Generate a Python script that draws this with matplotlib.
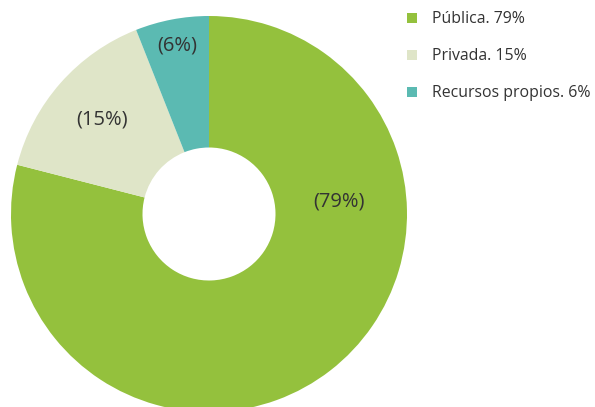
import numpy as np
import matplotlib.pyplot as plt
from matplotlib.patches import Patch

plt.rcParams['font.family'] = ['Open Sans', 'DejaVu Sans']

labels = ['Pública. 79%', 'Privada. 15%', 'Recursos propios. 6%']
values = [79, 15, 6]
pct_text = ['(79%)', '(15%)', '(6%)']
colors = ['#94c13d', '#dfe5c8', '#5bbab2']

# label placement (angle in degrees, radius as fraction of outer radius)
lbl_angle = [5.5, 138.6, 100.8]
lbl_rad = [0.66, 0.72, 0.865]

W, H = 595, 407
cx, cy, R = 209, 214, 198

fig = plt.figure(figsize=(W / 100, H / 100), dpi=100)
ax = fig.add_axes([0, 0, 1, 1])
ax.pie(values, colors=colors, startangle=90, counterclock=False,
       radius=1, wedgeprops=dict(width=1 - 66.5 / R, linewidth=0))
ax.set_xlim(-cx / R, (W - cx) / R)
ax.set_ylim((cy - H) / R, cy / R)
ax.set_aspect('auto')
ax.axis('off')

for t, a, r in zip(pct_text, lbl_angle, lbl_rad):
    th = np.deg2rad(a)
    ax.text(r * np.cos(th), r * np.sin(th), t, ha='center', va='center',
            fontsize=14.5, color='#333333')

handles = [Patch(facecolor=c, edgecolor='none') for c in colors]
fig.legend(handles, labels, loc='upper left', bbox_to_anchor=(401 / W, 1 - 5 / H),
           frameon=False, fontsize=11.4, labelcolor='#333333',
           handlelength=0.6, handleheight=0.6, handletextpad=0.95,
           labelspacing=1.33, borderaxespad=0)

fig.savefig('out.png', dpi=100)
